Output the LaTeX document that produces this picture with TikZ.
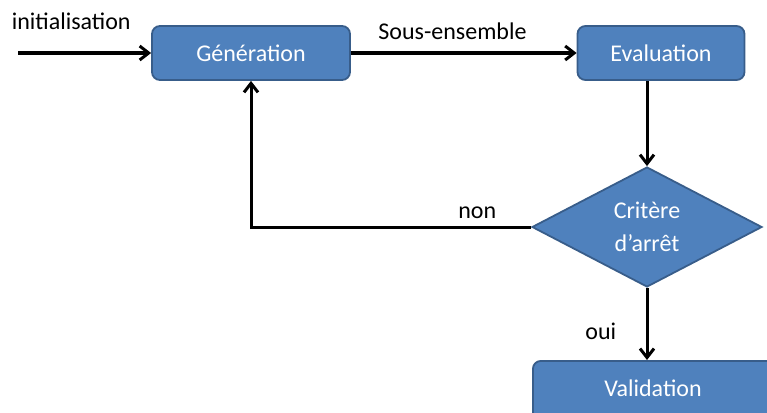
\documentclass[tikz,border=0pt]{standalone}
\usepackage{fontspec}
\setmainfont{Carlito}
\usetikzlibrary{positioning}
\usetikzlibrary{shapes.geometric}
\usetikzlibrary{arrows.meta}
\definecolor{boxblue}{HTML}{4F81BD}
\definecolor{boxline}{HTML}{385D8A}

\begin{document}
\begin{tikzpicture}[x=1pt, y=-1pt, >={Straight Barb[length=9pt,width=14pt]},
	bloc/.style={draw=boxline, fill=boxblue, line width=1.8pt, rounded corners=8pt, text=white, font=\fontsize{24}{28}\selectfont},
	losange/.style={diamond, draw=boxline, fill=boxblue, line width=1.8pt, aspect=1.9, inner sep=1pt, text=white, align=center, font=\fontsize{24}{33}\selectfont},
	fleche/.style={black, line width=3pt, ->},
	etiq/.style={font=\fontsize{24}{28}\selectfont}]
			\useasboundingbox (0, 0) rectangle (767, 412);
			\node[bloc, minimum width=198pt, minimum height=54pt] (gen) at (251, 53) {Génération};
			\node[bloc, minimum width=167pt, minimum height=54pt] (eval) at (661, 53) {Evaluation};
			\node[losange, minimum width=230pt, minimum height=120pt] (crit) at (647, 227) {Critère\\d’arrêt};
			\node[bloc, minimum width=250pt, minimum height=60pt, anchor=north west] (valid) at (532, 360) {};
			\node[etiq, white] at (653, 388) {Validation};
			\coordinate (debut) at (18, 53);
			\draw[fleche] (debut) -- (gen) node[etiq, pos=0.4, above=18pt] {initialisation};
			\draw[fleche] (gen) -- (eval) node[etiq, pos=0.45, above=8pt] {Sous-ensemble};
			\draw[fleche] (eval.south -| crit.north) -- (crit.north);
			\draw[fleche] (crit.west) -| (gen.south) node[etiq, pos=0.096, above=4pt] {non};
			\draw[fleche] (crit.south) -- (crit.south |- valid.north) node[etiq, pos=0.6, left=26pt] {oui};
		\end{tikzpicture}
\end{document}
